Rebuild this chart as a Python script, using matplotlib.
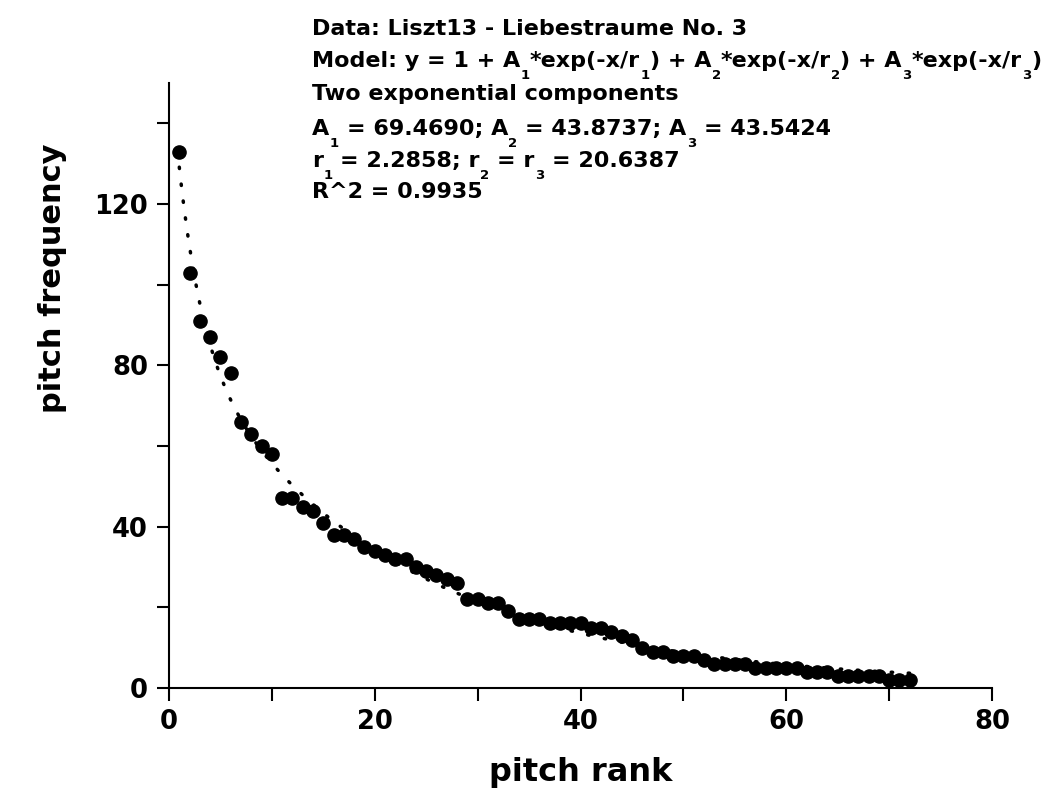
import numpy as np
import matplotlib
matplotlib.use("Agg")
import matplotlib.pyplot as plt
from matplotlib.ticker import MultipleLocator
from matplotlib.font_manager import FontProperties

# pitch rank vs. pitch frequency
rank = np.arange(1, 73)
freq = [133, 103, 91, 87, 82, 78, 66, 63, 60, 58,
        47, 47, 45, 44, 41, 38, 38, 37, 35, 34,
        33, 32, 32, 30, 29, 28, 27, 26, 22, 22,
        21, 21, 19, 17, 17, 17, 16, 16, 16, 16,
        15, 15, 14, 13, 12, 10, 9, 9, 8, 8,
        8, 7, 6, 6, 6, 6, 5, 5, 5, 5,
        5, 4, 4, 4, 3, 3, 3, 3, 3, 2,
        2, 2]

# fitted model parameters (from the annotation)
A1, A2, A3 = 69.4690, 43.8737, 43.5424
r1, r2, r3 = 2.2858, 20.6387, 20.6387

# annotation lines: (text, is_subscript) pieces
text_lines = [
    [("Data: Liszt13 - Liebestraume No. 3", False)],
    [("Model: y = 1 + A", False), ("1", True), ("*exp(-x/r", False), ("1", True),
     (") + A", False), ("2", True), ("*exp(-x/r", False), ("2", True),
     (") + A", False), ("3", True), ("*exp(-x/r", False), ("3", True), (")", False)],
    [("Two exponential components", False)],
    [("A", False), ("1", True), (" = 69.4690; A", False), ("2", True),
     (" = 43.8737; A", False), ("3", True), (" = 43.5424", False)],
    [("r", False), ("1", True), (" = 2.2858; r", False), ("2", True),
     (" = r", False), ("3", True), (" = 20.6387", False)],
    [("R^2 = 0.9935", False)],
]
baselines = [35, 67, 100, 135, 167, 198]


def model(x):
    return 1 + A1 * np.exp(-x / r1) + A2 * np.exp(-x / r2) + A3 * np.exp(-x / r3)


plt.rcParams['font.family'] = ['DejaVu Sans']
plt.rcParams['font.weight'] = 'bold'

W, H = 1050, 789
fig = plt.figure(figsize=(W / 100, H / 100), dpi=100)
ax = fig.add_axes([169 / W, 1 - 688 / H, 823 / W, 605 / H])

xf = np.linspace(1, 72, 400)
ax.plot(xf, model(xf), color='black', lw=2.5, linestyle=(0, (0.4, 4.5)),
        dash_capstyle='round', zorder=2)
ax.plot(rank, freq, 'o', color='black', ms=9.5, zorder=3)

ax.set_xlim(0, 80)
ax.set_ylim(0, 150)
ax.xaxis.set_major_locator(MultipleLocator(20))
ax.xaxis.set_minor_locator(MultipleLocator(10))
ax.yaxis.set_major_locator(MultipleLocator(40))
ax.yaxis.set_minor_locator(MultipleLocator(20))
ax.set_yticks([0, 40, 80, 120])

for s in ['top', 'right']:
    ax.spines[s].set_visible(False)
for s in ['left', 'bottom']:
    ax.spines[s].set_linewidth(1.5)

ax.tick_params(which='both', direction='out', length=9, width=1.5)
ax.tick_params(axis='x', which='major', pad=6, labelsize=18.5)
ax.tick_params(axis='y', which='major', pad=6, labelsize=18.5)

ax.set_xlabel("pitch rank", fontsize=23, fontweight='bold')
ax.set_ylabel("pitch frequency", fontsize=22, fontweight='bold')
ax.xaxis.set_label_coords(0.5, -0.114)
ax.yaxis.set_label_coords(-0.124, 0.678)

# annotation, laid out piece by piece so subscripts sit low and tight
renderer = fig.canvas.get_renderer()
main_size = 16
main_fp = FontProperties(family='DejaVu Sans', weight='bold', size=main_size)
sub_fp = FontProperties(family='DejaVu Sans', weight='bold', size=9.5)
space_w = 0.348 * main_size * 100 / 72  # DejaVu space advance in px

for pieces, b in zip(text_lines, baselines):
    x = 312
    for s, sub in pieces:
        fp = sub_fp if sub else main_fp
        lead = len(s) - len(s.lstrip(' '))
        x += lead * space_w
        s = s.lstrip(' ')
        y = b + 12 if sub else b
        t = fig.text(x / W, 1 - y / H, s, fontproperties=fp, ha='left', va='baseline')
        bb = t.get_window_extent(renderer)
        x = bb.x1 + (0 if sub else 0.5)

fig.savefig("out.png", dpi=100)
